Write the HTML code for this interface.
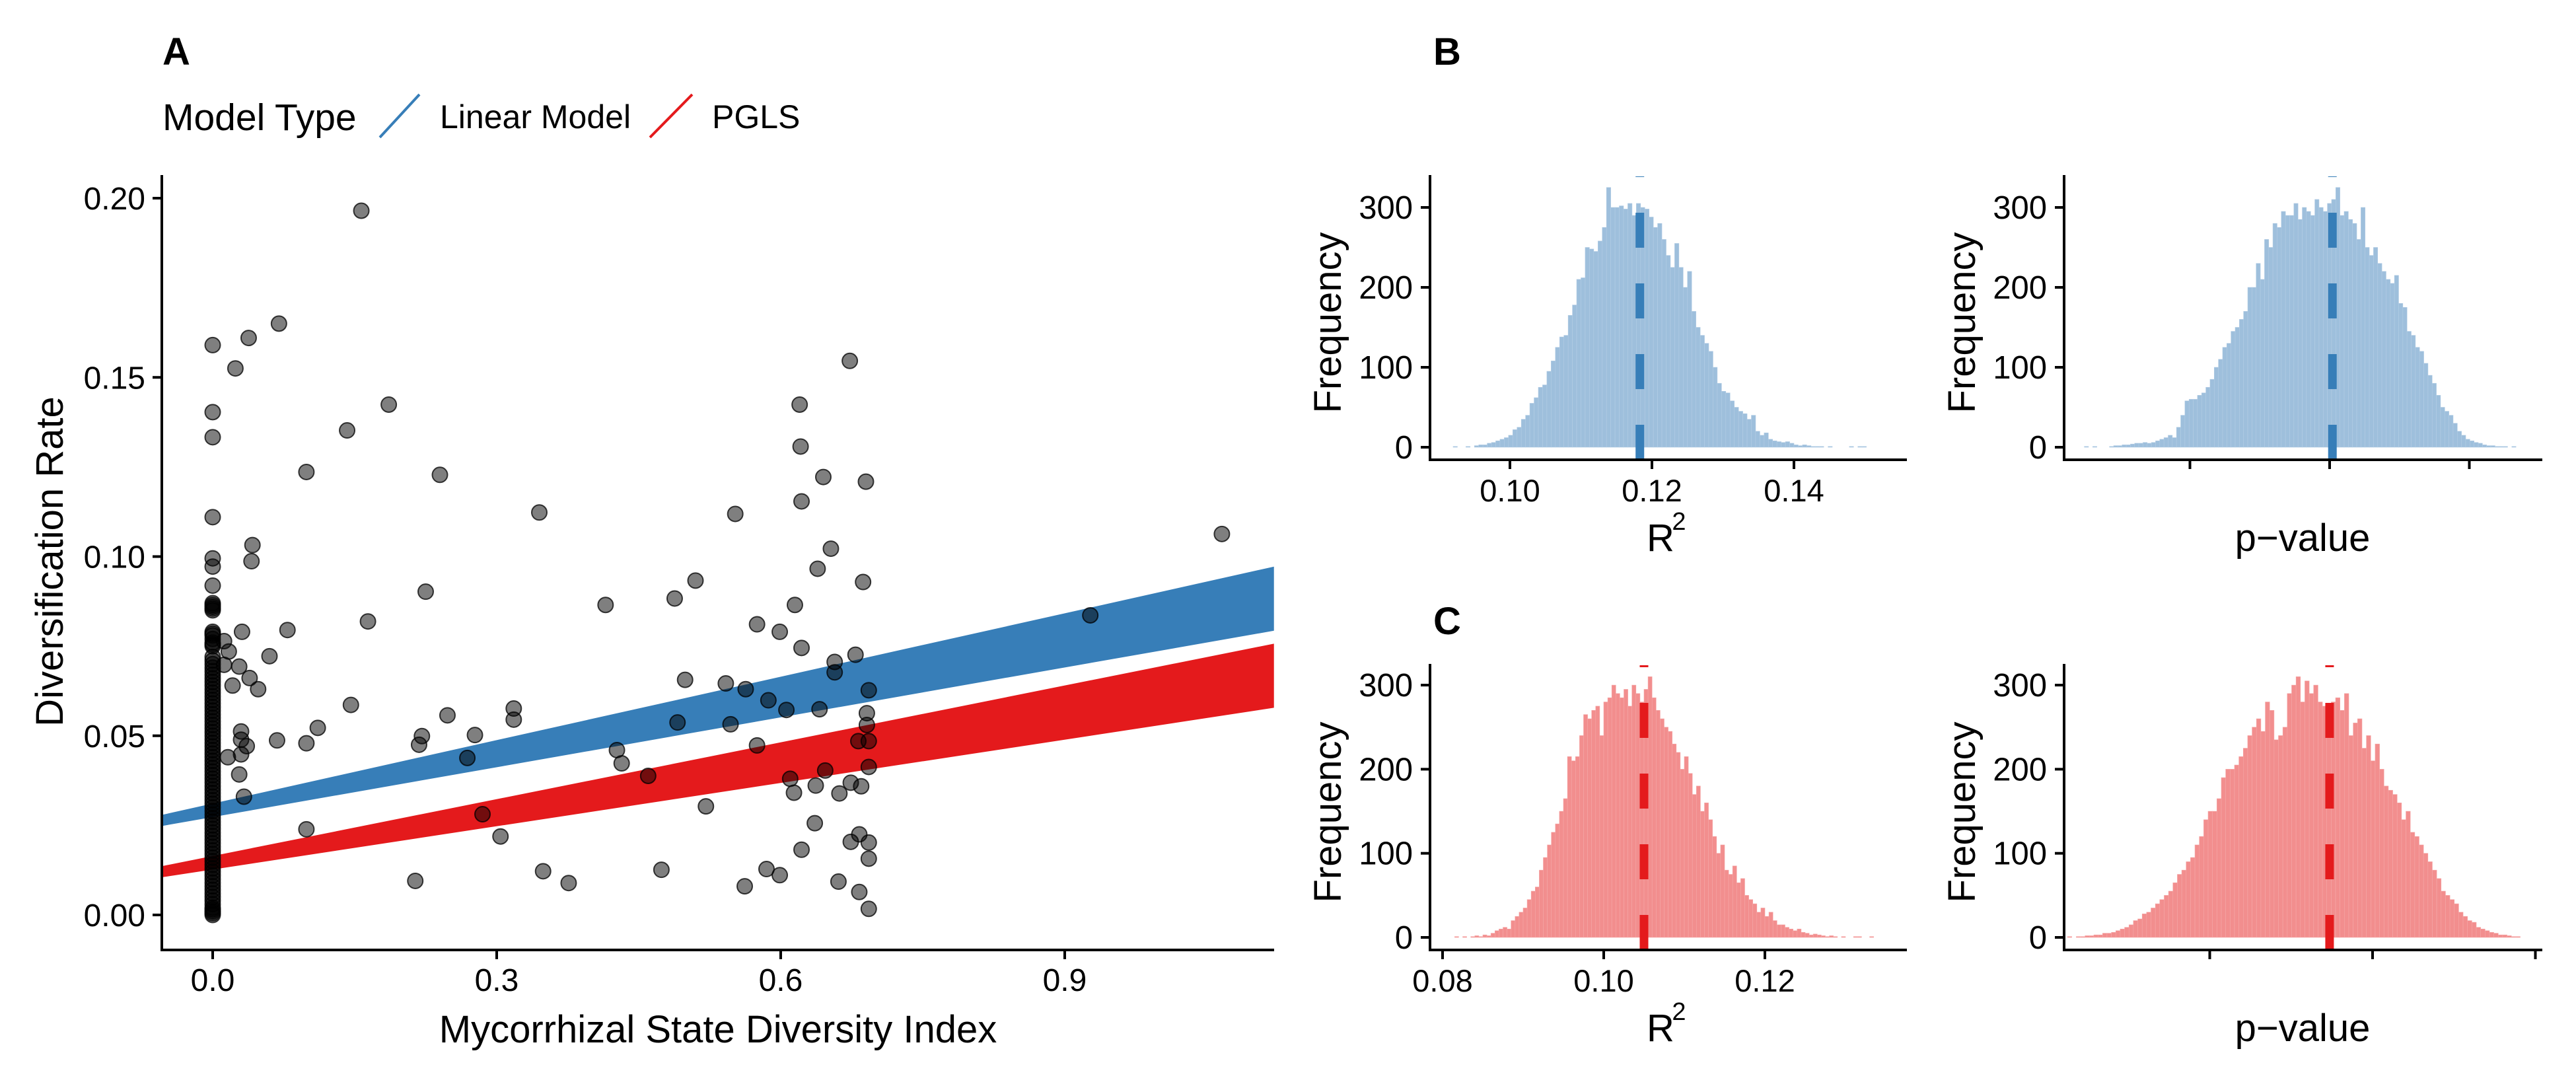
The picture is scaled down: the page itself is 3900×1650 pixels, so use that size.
<!DOCTYPE html>
<html><head><meta charset="utf-8">
<style>
html,body{margin:0;padding:0;background:#fff;}
svg{display:block;font-family:"Liberation Sans",Arial,sans-serif;}
</style></head>
<body>
<svg id="fig" width="3900" height="1650" viewBox="0 0 3900 1650" xmlns="http://www.w3.org/2000/svg">
<rect width="3900" height="1650" fill="#fff"/>
<g id="panelA"></g>
<g id="panelB"></g>
<g id="panelC"></g>
</svg>
<script>
// ---------- Panel A data ----------
const ptsX = [0.157,0.070,0.038,0,0.024,0.673,0.186,0.620,0,0.142,0,0.621,0.099,0.240,0.645,0.690,0.622,0.345,0.552,0,1.066,0.042,0.653,0.041,0,0,0.639,0.510,0.687,0,0.225,0.488,0.415,0.615,0.927,0.164,0.575,0.079,0.031,0.599,0.012,0.017,0.622,0.060,0.679,0.657,0.028,0.012,0.657,0.039,0.499,0.021,0.048,0.542,0.563,0.693,0.587,0.606,0.641,0.146,0.318,0.248,0.318,0.491,0.547,0.691,0.691,0.111,0.030,0.277,0.068,0.030,0.099,0.221,0.218,0.575,0.682,0.693,0.036,0.427,0.030,0.016,0.269,0.432,0.693,0.647,0.460,0.028,0.610,0.674,0.685,0.637,0.614,0.662,0.033,0.521,0.285,0.636,0.099,0.304,0.683,0.674,0.693,0.622,0.693,0.585,0.474,0.349,0.599,0.214,0.376,0.661,0.562,0.683,0.693,
0,0,0,0,0,0,0,0,0,0,0,0,0,0,0,0,0,0,0,0,0,0,0,0,0,0,0,0,0,0,0,0,0,0,0,0,0,0,0,0,0,0,0,0,0,0,0,
0,0,0,0,0,0,0,0,0,0,0,0,0,0,0,0,0,0,0,0,0,0,0,0,0,0,0,0,0,0,0,0,0,0,0,0,0,0,0,0];
const ptsY = [0.1965,0.165,0.161,0.159,0.1525,0.1546,0.1424,0.1424,0.1403,0.1352,0.1333,0.1307,0.1236,0.1228,0.1222,0.1209,0.1154,0.1123,0.1119,0.111,0.1063,0.1032,0.1022,0.0987,0.0995,0.0972,0.0966,0.0933,0.0929,0.0919,0.0902,0.0883,0.0865,0.0865,0.0836,0.0819,0.0811,0.0795,0.0790,0.0790,0.0764,0.0735,0.0745,0.0722,0.0726,0.0706,0.0693,0.0698,0.0677,0.0661,0.0656,0.0640,0.0630,0.0646,0.0630,0.0627,0.0599,0.0572,0.0574,0.0586,0.0576,0.0557,0.0545,0.0537,0.0532,0.0563,0.0530,0.0522,0.0512,0.0502,0.0487,0.0489,0.0479,0.0499,0.0475,0.0473,0.0485,0.0485,0.0471,0.0460,0.0448,0.0440,0.0438,0.0423,0.0413,0.0403,0.0388,0.0392,0.0380,0.0369,0.0359,0.0361,0.0341,0.0339,0.0330,0.0303,0.0281,0.0256,0.0239,0.0219,0.0225,0.0204,0.0202,0.0182,0.0157,0.0128,0.0126,0.0122,0.0111,0.0095,0.0089,0.0093,0.0080,0.0064,0.0017,
0.087,0.086,0.085,0.079,0.078,0.077,0.076,0.075,0.072,0.070,0.068,0.066,0.064,0.062,0.060,0.058,0.056,0.054,0.052,0.050,0.048,0.046,0.044,0.042,0.040,0.038,0.036,0.034,0.032,0.030,0.028,0.026,0.024,0.022,0.020,0.018,0.016,0.014,0.012,0.010,0.008,0.006,0.004,0.003,0.002,0.001,0.000,
0.0865,0.0855,0.0785,0.0755,0.071,0.069,0.067,0.065,0.063,0.061,0.059,0.057,0.055,0.053,0.051,0.049,0.047,0.045,0.043,0.041,0.039,0.037,0.035,0.033,0.031,0.029,0.027,0.025,0.023,0.021,0.019,0.017,0.015,0.013,0.011,0.009,0.007,0.005,0.0015,0.0005];
const bandX = [-0.054, 1.121];
const lmLow = [0.0248, 0.0793];
const lmHigh = [0.0279, 0.0972];
const pglsLow = [0.0105, 0.0578];
const pglsHigh = [0.0136, 0.0757];
const xTicksA = [0.0, 0.3, 0.6, 0.9];
const xTickLabelsA = ["0.0","0.3","0.6","0.9"];
const yTicksA = [0.00, 0.05, 0.10, 0.15, 0.20];
const yTickLabelsA = ["0.00","0.05","0.10","0.15","0.20"];

// ---------- Histogram data ----------
const bLeftStart = 0.092, bLeftWidth = 0.0006;
const bLeftCounts = [1,0,0,1,0, 2,3,3,5,6,8,10,12, 15,22,25,35,40,55,62,75, 78,95,108,125,138,140,165,178, 210,212,250,248,245,258,275,325, 300,300,302,298,305,290,305,300, 298,288,275,280,260,240,225,255, 225,200,220,170,150,140,130,120, 100,80,70,68,58,50,45,42, 35,40,20,15,18,10,8,7, 6,7,5,3,2,3,2,1, 1,1,0,1,0,0,0,0,1,0,1,1,0];
const bLeftMean = 0.1183;
const bLeftTicks = [0.10, 0.12, 0.14];
const bLeftTickLabels = ["0.10","0.12","0.14"];

const bRightStart = -1.756, bRightWidth = 0.03;
const bRightCounts = [1,0,1,0,0,0,1,2, 2,3,3,4,5,5,6,5, 6,8,10,12,15,12,25,40, 58,60,60,65,68,75,85,100, 110,125,130,145,150,160,170,200, 200,230,210,260,250,280,275,295, 290,290,305,285,300,295,290,310, 300,295,305,310,325,290,295,285, 280,260,300,250,240,250,230,220, 210,205,215,180,175,145,140,125, 120,105,90,80,65,50,45,40, 30,20,15,10,8,6,5,3, 2,2,1,1,1,0,1,0];
const bRightMean = 0.02;
const bRightTicks = [-1, 0, 1];

const cLeftStart = 0.0815, cLeftWidth = 0.0005;
const cLeftCounts = [1,0,1,0,1,2,1,3,2,5, 8,10,12,10,20,25,30,35,45,55, 60,80,95,110,125,135,150,165,215,210, 215,240,265,260,270,275,240,280,285,300, 290,285,295,275,300,290,280,295,310,285, 270,260,250,245,230,220,200,215,195,170, 180,150,160,140,120,100,110,80,75,85, 65,70,50,45,40,30,35,25,30,20, 15,15,12,10,8,10,6,5,3,4, 3,2,1,2,1,0,1,0,0,1, 1,0,0,1];
const cLeftMean = 0.1050;
const cLeftTicks = [0.08, 0.10, 0.12];
const cLeftTickLabels = ["0.08","0.10","0.12"];

const cRightStart = -1.874, cRightWidth = 0.027;
const cRightCounts = [1,0,1,1,2,2,3,3,5,5, 6,8,10,12,15,20,22,28,30,35, 40,45,50,55,65,75,80,90,95,110, 120,140,150,150,165,190,200,200,205,215, 225,240,250,260,245,280,270,235,240,250, 290,300,310,280,305,290,300,280,275,275, 280,285,270,290,240,255,260,225,240,210, 230,200,180,175,170,160,140,150,125,120, 110,100,90,80,70,55,50,45,40,30, 25,20,18,12,10,8,6,5,3,3, 2,1,1];
const cRightMean = -0.264;
const cRightTicks = [-1, 0, 1];
const freqTicks = [0, 100, 200, 300];
const freqTickLabels = ["0","100","200","300"];

const NS = "http://www.w3.org/2000/svg";
function mk(parent, tag, attrs, txt){
  const e = document.createElementNS(NS, tag);
  for (const k in attrs) e.setAttribute(k, attrs[k]);
  if (txt !== undefined) e.textContent = txt;
  parent.appendChild(e);
  return e;
}

// ---------- Panel A ----------
(function(){
  const g = document.getElementById('panelA');
  const xA = v => 322 + v * 1433.3;
  const yA = v => 1385 - v * 5425;
  const L = 245, R = 1929, T = 265, B = 1438;

  let t = mk(g,'text',{x:246,y:98,'font-size':58,'font-weight':'bold'},'A');
  
  

  const lg = mk(g,'g',{});
  
  
  t = mk(lg,'text',{x:246,y:197,'font-size':57},'Model Type');
  
  
  let l = mk(lg,'line',{x1:575,y1:208,x2:635,y2:143,stroke:'#377eb8','stroke-width':4});
  
  
  t = mk(lg,'text',{x:666,y:194,'font-size':50},'Linear Model');
  
  
  l = mk(lg,'line',{x1:984,y1:208,x2:1048,y2:143,stroke:'#e41a1c','stroke-width':4});
  
  
  t = mk(lg,'text',{x:1078,y:194,'font-size':50},'PGLS');
  
  

  function band(lo, hi, col, name){
    const pts = [];
    for (let i=0;i<bandX.length;i++) pts.push(xA(bandX[i])+','+yA(hi[i]));
    for (let i=bandX.length-1;i>=0;i--) pts.push(xA(bandX[i])+','+yA(lo[i]));
    const p = mk(g,'polygon',{points:pts.join(' '),fill:col});
    
    
  }
  band(lmLow, lmHigh, '#377eb8', 'linear-model-band');
  band(pglsLow, pglsHigh, '#e41a1c', 'pgls-band');

  const pg = mk(g,'g',{});
  
  
  for (let i=0;i<ptsX.length;i++){
    const c = mk(pg,'circle',{cx:xA(ptsX[i]),cy:yA(ptsY[i]),r:11.5,fill:'rgba(0,0,0,0.5)',stroke:'rgba(0,0,0,0.75)','stroke-width':2});
    
    
  }

  l = mk(g,'line',{x1:L,y1:T,x2:L,y2:B+2,stroke:'#000','stroke-width':4});
  
  
  l = mk(g,'line',{x1:L-2,y1:B,x2:R,y2:B,stroke:'#000','stroke-width':4});
  
  
  xTicksA.forEach((v,i)=>{
    mk(g,'line',{x1:xA(v),y1:B,x2:xA(v),y2:B+14,stroke:'#000','stroke-width':4});
    const tt = mk(g,'text',{x:xA(v),y:1500,'font-size':48,'text-anchor':'middle'},xTickLabelsA[i]);
    
    
  });
  yTicksA.forEach((v,i)=>{
    mk(g,'line',{x1:L-14,y1:yA(v),x2:L,y2:yA(v),stroke:'#000','stroke-width':4});
    const tt = mk(g,'text',{x:220,y:yA(v)+17,'font-size':48,'text-anchor':'end'},yTickLabelsA[i]);
    
    
  });
  t = mk(g,'text',{x:1087,y:1578,'font-size':58,'text-anchor':'middle'},'Mycorrhizal State Diversity Index');
  
  
  t = mk(g,'text',{x:0,y:0,'font-size':58,'text-anchor':'middle',transform:'translate(95,850) rotate(-90)'},'Diversification Rate');
  
  
})();

// ---------- Histograms ----------
function hist(g, o){
  const xs = o.xs, ys = o.ys;
  const bg = mk(g,'g',{});
  
  
  for (let i=0;i<o.counts.length;i++){
    const x0 = xs(o.start + i*o.width), x1 = xs(o.start + (i+1)*o.width);
    const h = o.counts[i];
    if (h <= 0) continue;
    const r = mk(bg,'rect',{x:x0,y:ys(h),width:x1-x0,height:ys(0)-ys(h),fill:o.fill,stroke:o.edge,'stroke-width':0.6});
    
    
  }
  const mx = xs(o.mean);
  const d = mk(g,'line',{x1:mx,y1:o.B,x2:mx,y2:o.T+2,stroke:o.dark,'stroke-width':13,'stroke-dasharray':'53 54'});
  
  
  let l = mk(g,'line',{x1:o.L,y1:o.T,x2:o.L,y2:o.B+2,stroke:'#000','stroke-width':4});
  
  
  l = mk(g,'line',{x1:o.L-2,y1:o.B,x2:o.R,y2:o.B,stroke:'#000','stroke-width':4});
  
  
  freqTicks.forEach((v,i)=>{
    mk(g,'line',{x1:o.L-14,y1:ys(v),x2:o.L,y2:ys(v),stroke:'#000','stroke-width':4});
    const tt = mk(g,'text',{x:o.L-26,y:ys(v)+17,'font-size':49,'text-anchor':'end'},freqTickLabels[i]);
    
    
  });
  o.xticks.forEach((v,i)=>{
    mk(g,'line',{x1:xs(v),y1:o.B,x2:xs(v),y2:o.B+14,stroke:'#000','stroke-width':4});
    if (o.xlabels){
      const tt = mk(g,'text',{x:xs(v),y:o.B+63,'font-size':47,'text-anchor':'middle'},o.xlabels[i]);
      
      
    }
  });
  let t = mk(g,'text',{x:0,y:0,'font-size':58,'text-anchor':'middle',transform:'translate('+(o.L-135)+','+((o.T+o.B)/2+8)+') rotate(-90)'},'Frequency');
  
  
  if (o.r2){
    t = mk(g,'text',{x:o.titleX-12,y:o.B+138,'font-size':58,'text-anchor':'middle'},'R');
    
    
    mk(g,'text',{x:o.titleX+16,y:o.B+106,'font-size':38,'text-anchor':'middle'},'2');
  } else {
    t = mk(g,'text',{x:o.titleX,y:o.B+138,'font-size':58,'text-anchor':'middle'},'p\u2212value');
    
    
  }
}

(function(){
  const g = document.getElementById('panelB');
  let t = mk(g,'text',{x:2170,y:98,'font-size':58,'font-weight':'bold'},'B');
  
  
  const ysB = c => 677 - c*1.21;
  const gl = mk(g,'g',{});
  
  
  hist(gl,{name:'hist-b-r2',xs:v=>2286+(v-0.10)*10750,ys:ysB,start:bLeftStart,width:bLeftWidth,counts:bLeftCounts,mean:bLeftMean,
    L:2165,R:2887,T:265,B:696,xticks:bLeftTicks,xlabels:bLeftTickLabels,fill:'#9ebfdc',edge:'#b3cde5',dark:'#377eb8',r2:true,titleX:2526});
  const gr = mk(g,'g',{});
  
  
  hist(gr,{name:'hist-b-pvalue',xs:u=>3527+u*211.5,ys:ysB,start:bRightStart,width:bRightWidth,counts:bRightCounts,mean:bRightMean,
    L:3125,R:3849,T:265,B:696,xticks:bRightTicks,xlabels:null,fill:'#9ebfdc',edge:'#b3cde5',dark:'#377eb8',r2:false,titleX:3486});
})();

(function(){
  const g = document.getElementById('panelC');
  let t = mk(g,'text',{x:2170,y:960,'font-size':58,'font-weight':'bold'},'C');
  
  
  const ysC = c => 1419 - c*1.273;
  const gl = mk(g,'g',{});
  
  
  hist(gl,{name:'hist-c-r2',xs:v=>2184+(v-0.08)*12200,ys:ysC,start:cLeftStart,width:cLeftWidth,counts:cLeftCounts,mean:cLeftMean,
    L:2165,R:2887,T:1005,B:1438,xticks:cLeftTicks,xlabels:cLeftTickLabels,fill:'#f28e8e',edge:'#f5a8a8',dark:'#e41a1c',r2:true,titleX:2526});
  const gr = mk(g,'g',{});
  
  
  hist(gr,{name:'hist-c-pvalue',xs:u=>3592+u*246.5,ys:ysC,start:cRightStart,width:cRightWidth,counts:cRightCounts,mean:cRightMean,
    L:3125,R:3849,T:1005,B:1438,xticks:cRightTicks,xlabels:null,fill:'#f28e8e',edge:'#f5a8a8',dark:'#e41a1c',r2:false,titleX:3486});
})();
</script>
</body></html>
